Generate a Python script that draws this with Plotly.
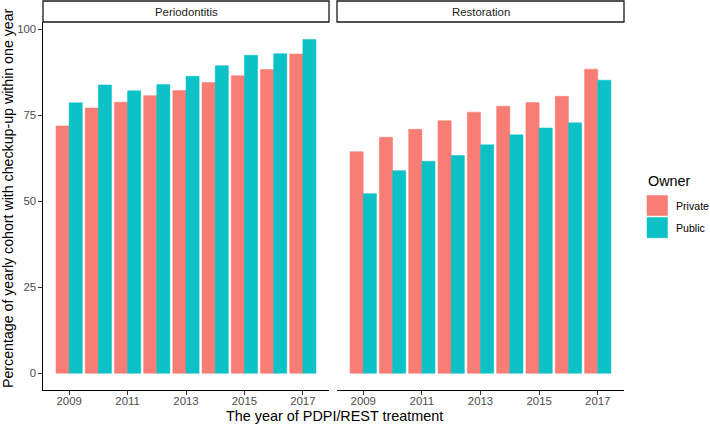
import plotly.graph_objects as go

years = [2009, 2010, 2011, 2012, 2013, 2014, 2015, 2016, 2017]
perio_private = [71.9, 77.1, 78.8, 80.7, 82.2, 84.5, 86.5, 88.3, 92.8]
perio_public = [78.6, 83.8, 82.1, 83.9, 86.3, 89.4, 92.4, 92.9, 97.0]
rest_private = [64.4, 68.6, 70.9, 73.4, 75.9, 77.6, 78.7, 80.5, 88.4]
rest_public = [52.2, 58.9, 61.6, 63.3, 66.4, 69.3, 71.3, 72.8, 85.2]
panels = ["Periodontitis", "Restoration"]
owners = ["Private", "Public"]
y_ticks = [0, 25, 50, 75, 100]
x_ticks = [2009, 2011, 2013, 2015, 2017]

W, H = 710, 425
FILL = {"Private": "rgba(248,118,109,0.95)", "Public": "rgba(0,191,196,0.95)"}
EDGE = {"Private": "rgba(248,118,109,0.6)", "Public": "rgba(0,191,196,0.6)"}
FONT = "Liberation Sans, Arial, sans-serif"

def px(x):
    return x / W

def py(y):
    return 1 - y / H

fig = go.Figure()
data = [(perio_private, perio_public), (rest_private, rest_public)]
for i, (priv, pub) in enumerate(data):
    xa = "x" if i == 0 else "x2"
    ya = "y" if i == 0 else "y2"
    for name, vals in zip(owners, (priv, pub)):
        fig.add_trace(go.Bar(
            x=years, y=vals, name=name, xaxis=xa, yaxis=ya,
            marker=dict(color=FILL[name], line=dict(color=EDGE[name], width=0.8)),
            showlegend=False,
        ))

yrange = [-4.86, 102.1]
xrange = [2008.105, 2017.895]
ydom = [py(390), py(22)]
axis_common = dict(showgrid=False, zeroline=False, ticks="outside", ticklen=3.5,
                   tickcolor="#333333", tickwidth=1.07,
                   tickfont=dict(family=FONT, size=11.4, color="#4D4D4D"))

fig.update_layout(
    width=W, height=H,
    margin=dict(l=0, r=0, t=0, b=0),
    paper_bgcolor="white", plot_bgcolor="white",
    barmode="group", bargap=0.1, bargroupgap=0,
    xaxis=dict(domain=[px(43), px(329)], range=xrange, tickvals=x_ticks,
               showline=True, linecolor="black", linewidth=1.07, anchor="y",
               ticklabelstandoff=-3, **axis_common),
    xaxis2=dict(domain=[px(337), px(624)], range=xrange, tickvals=x_ticks,
                showline=True, linecolor="black", linewidth=1.07, anchor="y2",
                ticklabelstandoff=-3, **axis_common),
    yaxis=dict(domain=ydom, range=yrange, tickvals=y_ticks, showline=True,
               linecolor="black", linewidth=1.07, anchor="x", **axis_common),
    yaxis2=dict(domain=ydom, range=yrange, tickvals=y_ticks, showline=False,
                showticklabels=False, ticks="", anchor="x2", showgrid=False, zeroline=False),
    showlegend=False,
)

shapes = []
annotations = []
# strips
for (x0, x1), label in zip([(43, 329), (337, 624)], panels):
    shapes.append(dict(type="rect", xref="paper", yref="paper",
                       x0=px(x0), x1=px(x1), y0=py(22), y1=py(1),
                       line=dict(color="#1a1a1a", width=1.3), fillcolor="white"))
    annotations.append(dict(text=label, xref="paper", yref="paper",
                            x=px((x0 + x1) / 2), y=py(11.5), showarrow=False,
                            xanchor="center", yanchor="middle",
                            font=dict(family=FONT, size=11.4, color="#1A1A1A")))

# axis titles
annotations.append(dict(text="The year of PDPI/REST treatment", xref="paper", yref="paper",
                        x=px(334), y=py(416), showarrow=False, xanchor="center",
                        yanchor="middle", font=dict(family=FONT, size=14.4, color="black")))
annotations.append(dict(text="Percentage of yearly cohort with checkup-up within one year",
                        xref="paper", yref="paper", x=px(8), y=py(198), showarrow=False,
                        textangle=-90, xanchor="center", yanchor="middle",
                        font=dict(family=FONT, size=14.2, color="black")))

# legend
annotations.append(dict(text="Owner", xref="paper", yref="paper", x=px(645.5), y=py(181),
                        showarrow=False, xanchor="left", yanchor="middle",
                        font=dict(family=FONT, size=14.4, color="black")))
for name, (y0, y1) in zip(owners, [(195.5, 215.5), (217.5, 237.8)]):
    shapes.append(dict(type="rect", xref="paper", yref="paper",
                       x0=px(647), x1=px(667.5), y0=py(y1), y1=py(y0),
                       line=dict(color=EDGE[name], width=0.8), fillcolor=FILL[name]))
    annotations.append(dict(text=name, xref="paper", yref="paper", x=px(674),
                            y=py((y0 + y1) / 2), showarrow=False, xanchor="left",
                            yanchor="middle",
                            font=dict(family=FONT, size=10.6, color="black")))

fig.update_layout(shapes=shapes, annotations=annotations)
fig.write_html("out.html", post_script="document.body.style.margin='0px';",
               config={"displayModeBar": False})
